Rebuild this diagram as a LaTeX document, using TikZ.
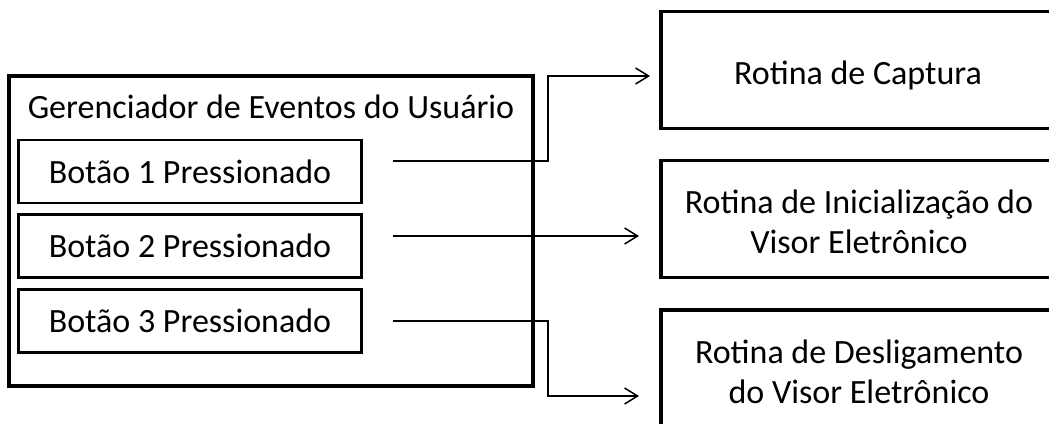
\documentclass[tikz,border=0pt]{standalone}
\usepackage{fontspec}
\setmainfont{Carlito}
\usetikzlibrary{arrows.meta}
\begin{document}
\begin{tikzpicture}[x=1pt,y=-1pt,
  every node/.style={font=\fontsize{34}{40}\selectfont, align=center, inner sep=0pt},
  outerbox/.style={draw, line width=3.2pt, minimum width=524pt, minimum height=310pt},
  btnbox/.style={draw, line width=2.6pt, minimum width=343pt, minimum height=63pt},
  routinebox/.style={draw, line width=3.2pt, minimum width=392pt, minimum height=117pt},
  link/.style={line width=1.5pt, -{Straight Barb[length=13pt,width=16pt,line width=1.5pt]}}]
\useasboundingbox (0,0) rectangle (1049,423);
\clip (0,0) rectangle (1049,423);

% event manager with its three buttons
\node[outerbox] (mgr) at (271,231) {};
\node (title) at (271,107) {Gerenciador de Eventos do Usuário};
\node[btnbox] (b1) at (190,171.5) {Botão 1 Pressionado};
\node[btnbox] (b2) at (190,246) {Botão 2 Pressionado};
\node[btnbox] (b3) at (190,321) {Botão 3 Pressionado};

% routines
\node[routinebox] (r1) at (857,70) {};
\node (t1) at (858,75) {Rotina de Captura};
\node[routinebox] (r2) at (857,219) {};
\node (t2) at (859,222) {Rotina de Inicialização do\\Visor Eletrônico};
\node[routinebox, minimum height=130pt] (r3) at (857,375) {};
\node (t3) at (859,372) {Rotina de Desligamento\\do Visor Eletrônico};

% connector end points
\coordinate (s1) at (393,161);
\coordinate (s2) at (393,236);
\coordinate (s3) at (393,321);
\coordinate (k1) at (548,161);
\coordinate (k3) at (548,321);
\coordinate (e1) at (650,76);
\coordinate (e2) at (639,236);
\coordinate (e3) at (639,396);

\draw[link] (s1) -- (k1) |- (e1);
\draw[link] (s2) -- (e2);
\draw[link] (s3) -- (k3) |- (e3);
\end{tikzpicture}
\end{document}
